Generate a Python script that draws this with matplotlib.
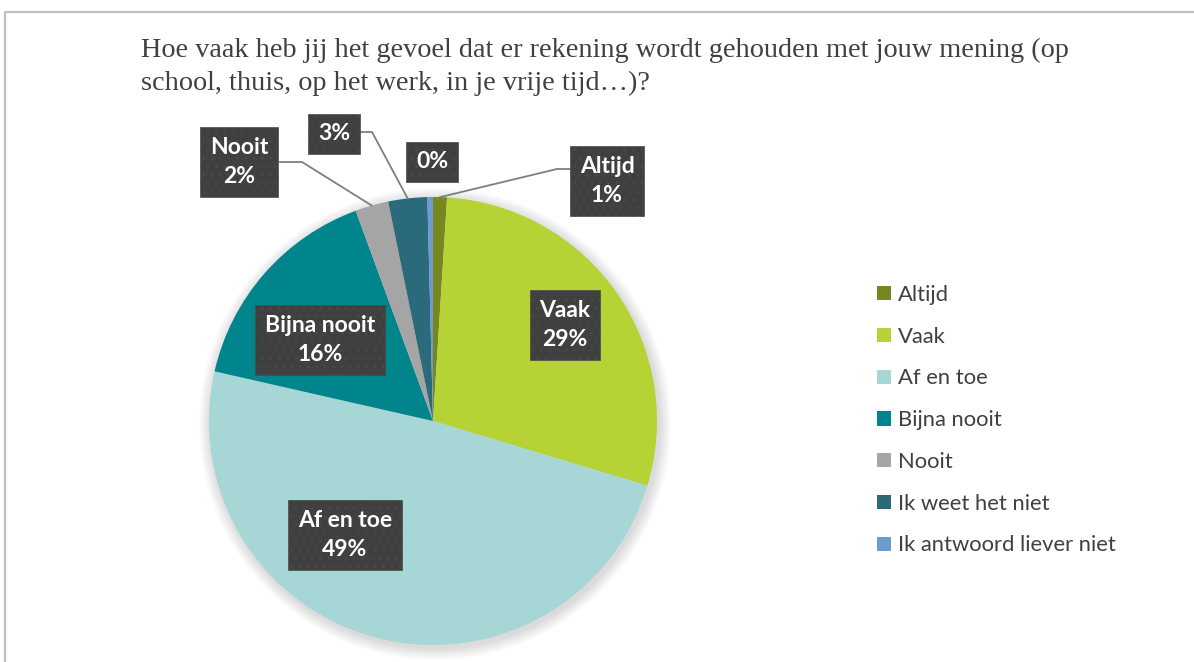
import matplotlib
matplotlib.use('Agg')
import matplotlib.pyplot as plt
import numpy as np

categories = ['Altijd', 'Vaak', 'Af en toe', 'Bijna nooit', 'Nooit', 'Ik weet het niet', 'Ik antwoord liever niet']
values = [1.0, 28.6, 48.8, 15.8, 2.4, 2.8, 0.4]
colors = ['#76871F', '#B5D334', '#A7D6D6', '#00858C', '#A5A5A5', '#2A6A7A', '#6F9AD0']
title_lines = ['Hoe vaak heb jij het gevoel dat er rekening wordt gehouden met jouw mening (op',
               'school, thuis, op het werk, in je vrije tijd…)?']

W, H = 1194, 662
fig = plt.figure(figsize=(W / 100, H / 100), dpi=100)
ax = fig.add_axes([0, 0, 1, 1])
ax.set_xlim(0, W)
ax.set_ylim(0, H)
ax.axis('off')

def py(y):
    return H - y

# frame
ax.plot([5, 5, W + 5], [-5, py(12), py(12)], color='#BFBFBF', lw=1.6)

for j, line in enumerate(title_lines):
    ax.text(141, py(57 + 33 * j), line, fontsize=20.3, family='Liberation Serif',
            color='#404040', va='baseline', ha='left')

cx, cy, r = 433, py(421), 224
# soft shadow
for k in range(12):
    ax.add_patch(plt.Circle((cx + 2, cy - 3), r + 12 - k, color='#000000', alpha=0.012, lw=0))

wedges, _ = ax.pie(values, colors=colors, startangle=90, counterclock=False,
                   center=(cx, cy), radius=r, wedgeprops=dict(linewidth=0))
ax.set_aspect('equal')
ax.set_xlim(0, W)
ax.set_ylim(0, H)

def edge_point(i):
    tot = sum(values)
    c = sum(values[:i]) + values[i] / 2
    a = np.deg2rad(90 - 360 * c / tot)
    return cx + r * np.cos(a), cy + r * np.sin(a)

plt.rcParams['hatch.color'] = '#555555'
plt.rcParams['hatch.linewidth'] = 0.6
box = dict(boxstyle='square,pad=0.42', facecolor='#404040', edgecolor='#4a4a4a',
           hatch='..', lw=0.5)

tot = sum(values)
label_pos = {
    'Altijd': (607, 181, True),
    'Vaak': (565, 325, True),
    'Af en toe': (345, 535, True),
    'Bijna nooit': (320, 340, True),
    'Nooit': (239, 162, True),
    'Ik weet het niet': (334, 134, False),
    'Ik antwoord liever niet': (432, 162, False),
}

# leader lines
lines = {0: [(570, 169), (557, 169)], 4: [(280, 162), (302, 162)], 5: [(360, 132), (372, 132)]}
for i, pts in lines.items():
    ex, ey = edge_point(i)
    xs = [p[0] for p in pts] + [ex]
    ys = [py(p[1]) for p in pts] + [ey]
    ax.plot(xs, ys, color='#7F7F7F', lw=1.3, zorder=3)

for i, cat in enumerate(categories):
    x, y, show_name = label_pos[cat]
    pct = f'{round(values[i] / tot * 100)}%'
    s = f'{cat}\n{pct}' if show_name else pct
    ax.text(x, py(y), s, ha='center', va='center', fontsize=16.5, family='Lato',
            fontweight='bold', color='white', bbox=box, linespacing=1.5, zorder=5)

leg = ax.legend(wedges, categories, loc='upper left', bbox_to_anchor=(877 / W, 1 - 285 / H),
                frameon=False, labelspacing=0.99, handlelength=0.62,
                handleheight=0.62, handletextpad=0.35, borderpad=0, borderaxespad=0,
                prop={'family': 'Lato', 'size': 15.8})
for t in leg.get_texts():
    t.set_color('#404040')

fig.savefig('out.png', dpi=100)
